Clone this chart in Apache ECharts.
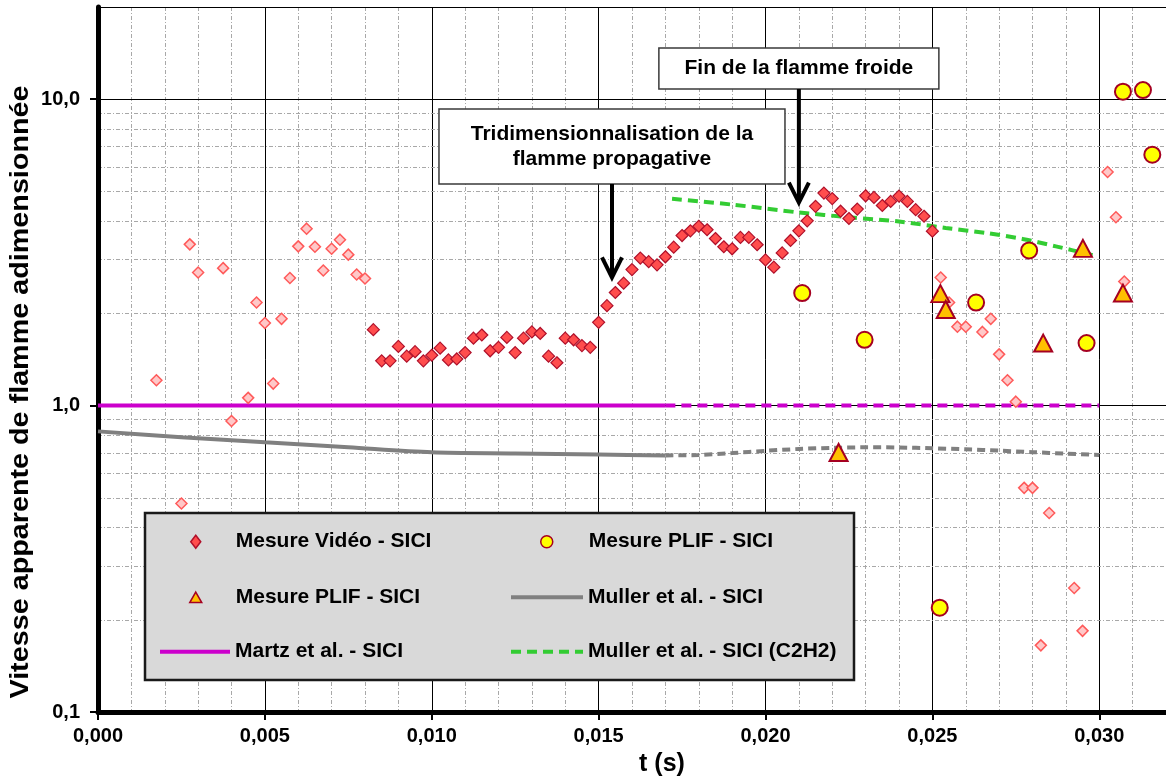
<!DOCTYPE html>
<html>
<head>
<meta charset="utf-8">
<title>Vitesse apparente de flamme adimensionnée</title>
<script src="https://cdn.jsdelivr.net/npm/echarts@6/dist/echarts.min.js"></script>
<style>
  html, body { margin: 0; padding: 0; background: #ffffff; }
  #chart { width: 1166px; height: 780px; }
</style>
</head>
<body>
<div id="chart"></div>
<script>
// ---------- data ----------
// axis ticks
const xMajorTicks = [0, 0.005, 0.010, 0.015, 0.020, 0.025, 0.030];
const yMajorTicks = [0.1, 1, 10];
const yMinorTicks = [0.2, 0.3, 0.4, 0.5, 0.6, 0.7, 0.8, 0.9, 2, 3, 4, 5, 6, 7, 8, 9];

// Mesure Vidéo - SICI (main sequence)
const videoT = [0.00825, 0.0085, 0.00875, 0.009, 0.00925, 0.0095, 0.00975, 0.010, 0.01025, 0.0105,
  0.01075, 0.011, 0.01125, 0.0115, 0.01175, 0.012, 0.01225, 0.0125, 0.01275, 0.013,
  0.01325, 0.0135, 0.01375, 0.014, 0.01425, 0.0145, 0.01475, 0.015, 0.01525, 0.0155,
  0.01575, 0.016, 0.01625, 0.0165, 0.01675, 0.017, 0.01725, 0.0175, 0.01775, 0.018,
  0.01825, 0.0185, 0.01875, 0.019, 0.01925, 0.0195, 0.01975, 0.020, 0.02025, 0.0205,
  0.02075, 0.021, 0.02125, 0.0215, 0.02175, 0.022, 0.02225, 0.0225, 0.02275, 0.023,
  0.02325, 0.0235, 0.02375, 0.024, 0.02425, 0.0245, 0.02475, 0.025];
const videoV = [1.77, 1.40, 1.40, 1.56, 1.45, 1.50, 1.40, 1.46, 1.54, 1.41,
  1.42, 1.49, 1.66, 1.70, 1.51, 1.55, 1.67, 1.49, 1.66, 1.74,
  1.72, 1.45, 1.38, 1.66, 1.64, 1.57, 1.55, 1.87, 2.12, 2.34,
  2.51, 2.78, 3.03, 2.95, 2.88, 3.06, 3.29, 3.59, 3.72, 3.85,
  3.75, 3.51, 3.30, 3.25, 3.54, 3.54, 3.35, 2.99, 2.83, 3.15,
  3.46, 3.72, 4.01, 4.47, 4.94, 4.74, 4.31, 4.08, 4.38, 4.84,
  4.78, 4.50, 4.64, 4.83, 4.64, 4.36, 4.15, 3.71];

// Mesure Vidéo - SICI (scattered samples, light markers)
const scatterT = [0.00175, 0.0025, 0.00275, 0.003, 0.00375, 0.004, 0.0045, 0.00475, 0.005, 0.00525,
  0.0055, 0.00575, 0.006, 0.00625, 0.0065, 0.00675, 0.007, 0.00725, 0.0075, 0.00775,
  0.008, 0.02525, 0.0255, 0.02575, 0.026, 0.0265, 0.02675, 0.027, 0.02725, 0.0275,
  0.02775, 0.028, 0.02825, 0.0285, 0.02925, 0.0295, 0.03025, 0.0305, 0.03075];
const scatterV = [1.21, 0.479, 3.36, 2.72, 2.81, 0.891, 1.06, 2.17, 1.86, 1.18,
  1.92, 2.61, 3.31, 3.78, 3.30, 2.76, 3.25, 3.48, 3.11, 2.68,
  2.60, 2.62, 2.17, 1.81, 1.81, 1.74, 1.92, 1.47, 1.21, 1.03,
  0.539, 0.539, 0.165, 0.446, 0.254, 0.184, 5.79, 4.12, 2.54];

// Mesure PLIF - SICI (circles)
const plifCircleT = [0.0211, 0.02297, 0.02522, 0.02631, 0.0279, 0.02962, 0.03071, 0.03131, 0.03159];
const plifCircleV = [2.33, 1.64, 0.219, 2.17, 3.21, 1.60, 10.58, 10.71, 6.59];

// Mesure PLIF - SICI (triangles)
const plifTriT = [0.02219, 0.02524, 0.0254, 0.02832, 0.02951, 0.03071];
const plifTriV = [0.703, 2.32, 2.06, 1.60, 3.26, 2.33];

// Martz et al. - SICI
const martzT = [0, 0.017];
const martzV = [1, 1];
const martzExtT = [0.017, 0.030];
const martzExtV = [1, 1];

// Muller et al. - SICI
const mullerT = [0, 0.0025, 0.005, 0.0075, 0.010, 0.0125, 0.015, 0.017];
const mullerV = [0.824, 0.789, 0.759, 0.731, 0.704, 0.698, 0.692, 0.688];
const mullerExtT = [0.017, 0.018, 0.019, 0.020, 0.021, 0.022, 0.023, 0.024, 0.025, 0.026, 0.027, 0.028, 0.029, 0.030];
const mullerExtV = [0.688, 0.690, 0.700, 0.712, 0.722, 0.728, 0.731, 0.730, 0.726, 0.720, 0.713, 0.705, 0.697, 0.690];

// Muller et al. - SICI (C2H2)
const c2h2T = [0.0172, 0.019, 0.021, 0.0225, 0.024, 0.0254, 0.0266, 0.0277, 0.0287, 0.0298];
const c2h2V = [4.73, 4.53, 4.27, 4.12, 3.99, 3.80, 3.66, 3.50, 3.31, 3.10];

// annotations: arrow tips (t, value) and texts
const annotT = [0.0154, 0.0210];
const annotV = [2.62, 4.60];
const annotText = ['Tridimensionnalisation de la\nflamme propagative', 'Fin de la flamme froide'];

// ---------- chart ----------
const FONT = '"Liberation Sans", Arial, Helvetica, sans-serif';
const pairs = (xs, ys) => xs.map((x, i) => [x, ys[i]]);
const minorGrid = { color: '#a8a8a8', width: 1, type: [4, 2, 1, 2] };

// legend icons: bars for the line series, fixed-aspect marker shapes
const ICON_SOLID = 'path://M0,0h72v4h-72z';
const ICON_DASHED = 'path://M0,0h10v4h-10zM16,0h10v4h-10zM32,0h10v4h-10zM48,0h10v4h-10zM64,0h8v4h-8z';
const ICON_DIAMOND = 'path://M5,0L10,6.5L5,13L0,6.5Z';
const ICON_TRIANGLE = 'path://M6,0L12,10.5L0,10.5Z';

const chart = echarts.init(document.getElementById('chart'), null, { renderer: 'canvas' });

// one legend per entry; textPad pushes the label to its column
function legendItem(name, icon, left, cy, w, h, textPad, isLine) {
  return {
    data: [{ name: name, icon: icon }], left: left, top: cy - 12, orient: 'horizontal',
    itemWidth: w, itemHeight: h, itemGap: 0, padding: 0, selectedMode: false, z: 6,
    symbolKeepAspect: true,
    itemStyle: isLine ? { borderWidth: 0 } : { borderWidth: 1.5 },
    textStyle: { fontSize: 21, fontWeight: 'bold', fontFamily: FONT, color: '#000', lineHeight: 24,
      padding: [0, 0, 0, textPad] }
  };
}

const option = {
  animation: false,
  backgroundColor: '#ffffff',
  grid: { left: 98, right: -3, top: 7, bottom: 68 },
  xAxis: [{
    type: 'value', min: 0, max: 0.032, interval: 0.005, z: 1,
    axisLine: { show: true, onZero: false, lineStyle: { color: '#000', width: 5 } },
    axisTick: { show: true, length: 8, lineStyle: { color: '#000', width: 2 } },
    axisLabel: {
      margin: 14, fontSize: 20, fontWeight: 'bold', color: '#000', fontFamily: FONT, showMaxLabel: false,
      formatter: v => xMajorTicks.some(t => Math.abs(t - v) < 1e-9) ? v.toFixed(3).replace('.', ',') : ''
    },
    splitLine: { show: true, lineStyle: { color: '#000', width: 1 } }
  }, {
    type: 'value', min: 0, max: 0.032, interval: 0.001, position: 'top', z: 0,
    axisLine: { show: false }, axisTick: { show: false }, axisLabel: { show: false },
    splitLine: { show: true, lineStyle: minorGrid }
  }],
  yAxis: {
    type: 'log', logBase: 10, min: 0.1, max: 20, z: 1,
    axisLine: { show: true, lineStyle: { color: '#000', width: 5 } },
    axisTick: { show: true, length: 8, lineStyle: { color: '#000', width: 2 } },
    axisLabel: {
      margin: 18, fontSize: 20, fontWeight: 'bold', color: '#000', fontFamily: FONT, showMaxLabel: false,
      formatter: v => yMajorTicks.some(t => Math.abs(t - v) < 1e-9) ? v.toFixed(1).replace('.', ',') : ''
    },
    splitLine: { show: true, lineStyle: { color: '#000', width: 1 } }
  },
  legend: [
    legendItem('Mesure Vidéo - SICI', ICON_DIAMOND, 190, 541.7, 10, 13, 30, false),
    legendItem('Mesure PLIF - SICI', 'circle', 540, 541.7, 12, 12, 31, false),
    legendItem('Mesure PLIF - SICI ', ICON_TRIANGLE, 189, 597.3, 12, 11, 29, false),
    legendItem('Muller et al. - SICI', ICON_SOLID, 511, 597.3, 72, 12, 0, true),
    legendItem('Martz et al. - SICI', ICON_SOLID, 160, 651.7, 70, 12, 0, true),
    legendItem('Muller et al. - SICI (C2H2)', ICON_DASHED, 511, 651.7, 72, 12, 0, true)
  ],
  series: [
    {
      name: 'grille mineure', type: 'line', data: [], silent: true, z: 1,
      markLine: {
        silent: true, z: 1, symbol: ['none', 'none'], label: { show: false },
        lineStyle: minorGrid, emphasis: { disabled: true },
        data: yMinorTicks.map(v => ({ yAxis: v }))
      }
    },
    {
      name: 'Martz et al. - SICI', type: 'line', data: pairs(martzT, martzV), symbol: 'none', z: 2,
      itemStyle: { color: '#cc00cc' }, lineStyle: { color: '#cc00cc', width: 4 }
    },
    {
      name: 'Martz et al. - SICI (prolongement)', type: 'line', data: pairs(martzExtT, martzExtV), symbol: 'none', z: 2,
      itemStyle: { color: '#cc00cc' }, lineStyle: { color: '#cc00cc', width: 4, type: [10, 6] }
    },
    {
      name: 'Muller et al. - SICI', type: 'line', data: pairs(mullerT, mullerV), symbol: 'none', smooth: 0.3, z: 2,
      itemStyle: { color: '#808080' }, lineStyle: { color: '#808080', width: 4 }
    },
    {
      name: 'Muller et al. - SICI (prolongement)', type: 'line', data: pairs(mullerExtT, mullerExtV), symbol: 'none', smooth: 0.3, z: 2,
      itemStyle: { color: '#808080' }, lineStyle: { color: '#808080', width: 4, type: [8, 5] }
    },
    {
      name: 'Muller et al. - SICI (C2H2)', type: 'line', data: pairs(c2h2T, c2h2V), symbol: 'none', smooth: 0.3, z: 2,
      itemStyle: { color: '#33cc33' }, lineStyle: { color: '#33cc33', width: 4, type: [10, 6] }
    },
    {
      name: 'Mesure Vidéo - SICI (dispersion)', type: 'scatter', data: pairs(scatterT, scatterV),
      symbol: 'diamond', symbolSize: 11, z: 3,
      itemStyle: { color: '#ffc8c8', borderColor: '#ff5a5a', borderWidth: 1.5, opacity: 1 }
    },
    {
      name: 'Mesure Vidéo - SICI', type: 'scatter', data: pairs(videoT, videoV),
      symbol: 'diamond', symbolSize: 12, z: 3,
      itemStyle: { color: '#ff4d4d', borderColor: '#b0102a', borderWidth: 1.2, opacity: 1 }
    },
    {
      name: 'Mesure PLIF - SICI', type: 'scatter', data: pairs(plifCircleT, plifCircleV),
      symbol: 'circle', symbolSize: 16, z: 4,
      itemStyle: { color: '#ffff00', borderColor: '#a50021', borderWidth: 2, opacity: 1 }
    },
    {
      name: 'Mesure PLIF - SICI ', type: 'scatter', data: pairs(plifTriT, plifTriV),
      symbol: 'triangle', symbolSize: [18, 17], z: 4,
      itemStyle: { color: '#ffc000', borderColor: '#a50021', borderWidth: 2, opacity: 1 }
    }
  ]
};

chart.setOption(option);

// ---------- legend frame, titles and annotations ----------
const graphics = [
  {
    type: 'rect', z: 5, silent: true,
    shape: { x: 145, y: 513, width: 709, height: 167 },
    style: { fill: '#d9d9d9', stroke: '#1a1a1a', lineWidth: 2.5 }
  },
  {
    type: 'text', z: 6, silent: true, x: 662, y: 764,
    style: { text: 't (s)', font: 'bold 25px ' + FONT, fill: '#000', align: 'center', verticalAlign: 'middle' }
  },
  {
    type: 'text', z: 6, silent: true, x: 21, y: 392, rotation: Math.PI / 2, scaleX: 1.15,
    style: { text: 'Vitesse apparente de flamme adimensionnée', font: 'bold 25px ' + FONT, fill: '#000', align: 'center', verticalAlign: 'middle' }
  }
];

// annotation boxes: [top, width, height] in pixels
const boxLayout = [[109, 346, 75], [48, 280, 41]];
annotT.forEach((t, i) => {
  const tip = chart.convertToPixel({ xAxisIndex: 0, yAxisIndex: 0 }, [t, annotV[i]]);
  const [top, w, h] = boxLayout[i];
  const cx = tip[0];
  const bottom = top + h;
  graphics.push(
    {
      type: 'rect', z: 7, silent: true,
      shape: { x: cx - w / 2, y: top, width: w, height: h },
      style: { fill: '#ffffff', stroke: '#3a3a3a', lineWidth: 1.5 }
    },
    {
      type: 'text', z: 8, silent: true, x: cx, y: top + h / 2,
      style: { text: annotText[i], font: 'bold 21px ' + FONT, lineHeight: 25, fill: '#000', align: 'center', verticalAlign: 'middle' }
    },
    {
      type: 'line', z: 7, silent: true,
      shape: { x1: cx, y1: bottom, x2: cx, y2: tip[1] - 2 },
      style: { stroke: '#000', lineWidth: 4 }
    },
    {
      type: 'polyline', z: 7, silent: true,
      shape: { points: [[cx - 10, tip[1] - 20], [cx, tip[1]], [cx + 10, tip[1] - 20]] },
      style: { stroke: '#000', lineWidth: 4, fill: null, lineJoin: 'miter' }
    }
  );
});

chart.setOption({ graphic: graphics });
</script>
</body>
</html>
